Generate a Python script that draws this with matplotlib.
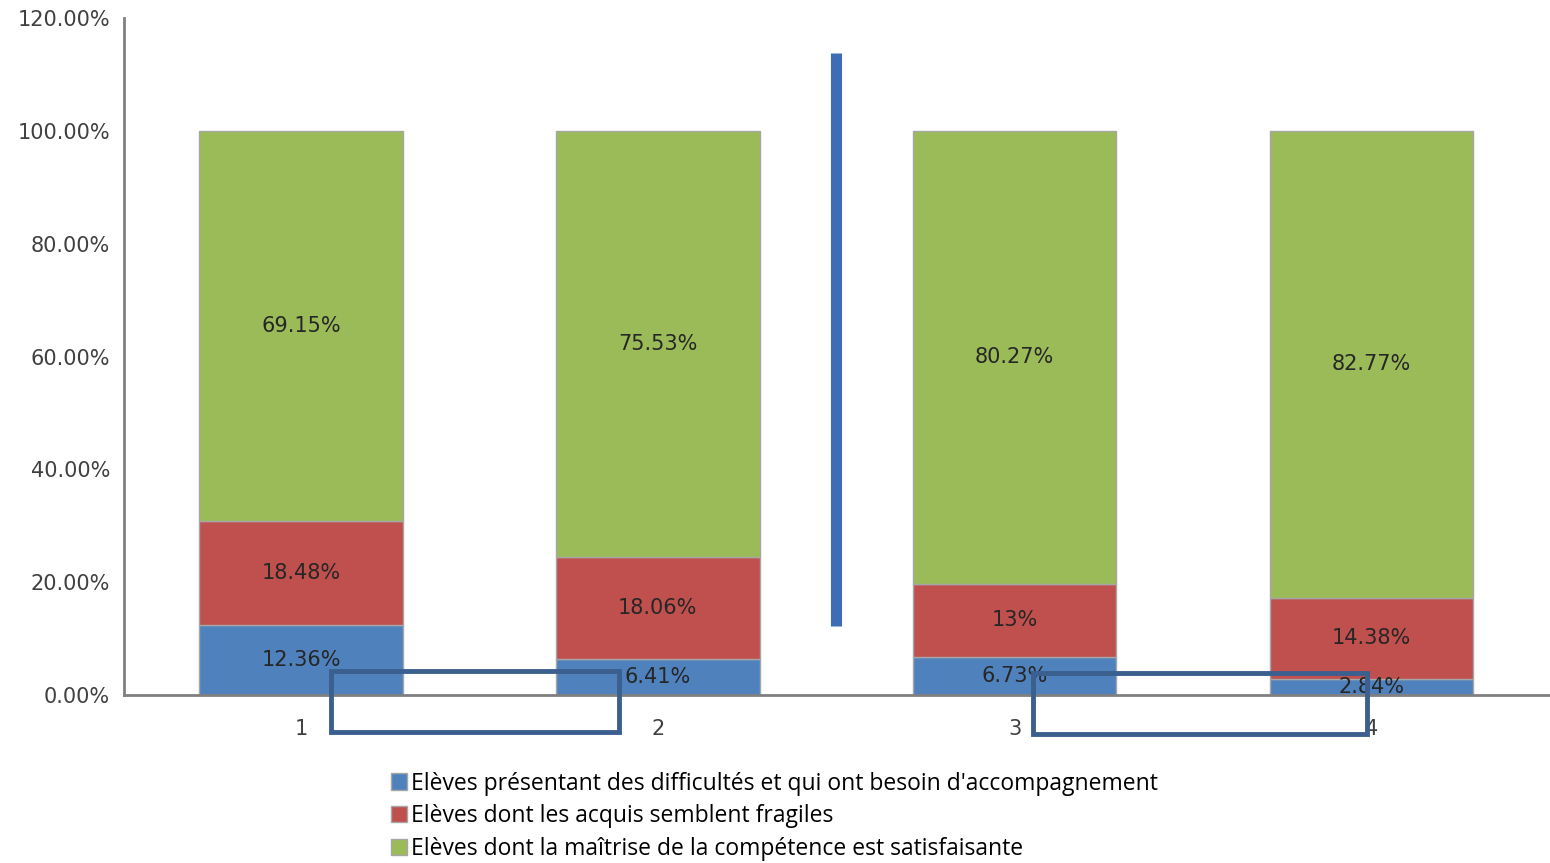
import numpy as np
from matplotlib import pyplot as plt
from matplotlib.patches import Rectangle
from matplotlib.lines import Line2D

categories = ["1", "2", "3", "4"]
difficulte = [12.36, 6.41, 6.73, 2.84]
fragile = [18.48, 18.06, 13.0, 14.38]
satisfaisant = [69.15, 75.53, 80.27, 82.77]
label_difficulte = ["12.36%", "6.41%", "6.73%", "2.84%"]
label_fragile = ["18.48%", "18.06%", "13%", "14.38%"]
label_satisfaisant = ["69.15%", "75.53%", "80.27%", "82.77%"]
legend_labels = [
    "Elèves présentant des difficultés et qui ont besoin d'accompagnement",
    "Elèves dont les acquis semblent fragiles",
    "Elèves dont la maîtrise de la compétence est satisfaisante",
]
yticks = [0, 20, 40, 60, 80, 100, 120]

colors = ["#4F81BD", "#C0504D", "#9BBB59"]

fig = plt.figure(figsize=(15.5, 8.63), dpi=100)
ax = fig.add_axes([0.08, 0.1947, 0.92, 0.7843])

x = np.arange(1, len(categories) + 1)
width = 0.57
series = [difficulte, fragile, satisfaisant]
labels = [label_difficulte, label_fragile, label_satisfaisant]
bottom = np.zeros(len(categories))
handles = []
for vals, labs, col, name in zip(series, labels, colors, legend_labels):
    vals = np.array(vals) / 100
    bars = ax.bar(x, vals, width, bottom=bottom, color=col,
                  edgecolor="#A6A6A6", linewidth=1.0, label=name)
    for xi, b, v, t in zip(x, bottom, vals, labs):
        ax.text(xi, b + v / 2, t, ha="center", va="center",
                fontsize=15, color="#262626")
    handles.append(bars)
    bottom = bottom + vals

ax.set_xlim(0.504, 4.5)
ax.set_ylim(0, 1.2)
ax.set_yticks([t / 100 for t in yticks])
ax.set_yticklabels([f"{t:.2f}%" for t in yticks])
ax.set_xticks(x)
ax.set_xticklabels(categories)
ax.tick_params(axis="both", length=0, labelsize=15, colors="#404040")
ax.tick_params(axis="y", pad=10)
ax.tick_params(axis="x", pad=17)
for side in ["top", "right"]:
    ax.spines[side].set_visible(False)
for side in ["left", "bottom"]:
    ax.spines[side].set_color("#808080")
    ax.spines[side].set_linewidth(2)

# annotations drawn over the chart
ax.add_line(Line2D([2.5, 2.5], [0.122, 1.138], color="#3D6DB5",
                   linewidth=8, solid_capstyle="butt", clip_on=False, zorder=5))
ax.add_patch(Rectangle((1.084, -0.0655), 0.807, 0.108, fill=False,
                       edgecolor="#3B5F8E", linewidth=3.5, clip_on=False, zorder=5))
ax.add_patch(Rectangle((3.05, -0.069), 0.936, 0.108, fill=False,
                       edgecolor="#3B5F8E", linewidth=3.5, clip_on=False, zorder=5))

fig.legend(handles=handles, labels=legend_labels, loc="upper left",
           bbox_to_anchor=(0.252, 0.106), frameon=False,
           prop={"family": "Open Sans", "size": 16.5},
           handlelength=0.7, handleheight=0.7, handletextpad=0.2,
           labelspacing=0.38, borderpad=0, borderaxespad=0)

fig.savefig("out.png", dpi=100)
